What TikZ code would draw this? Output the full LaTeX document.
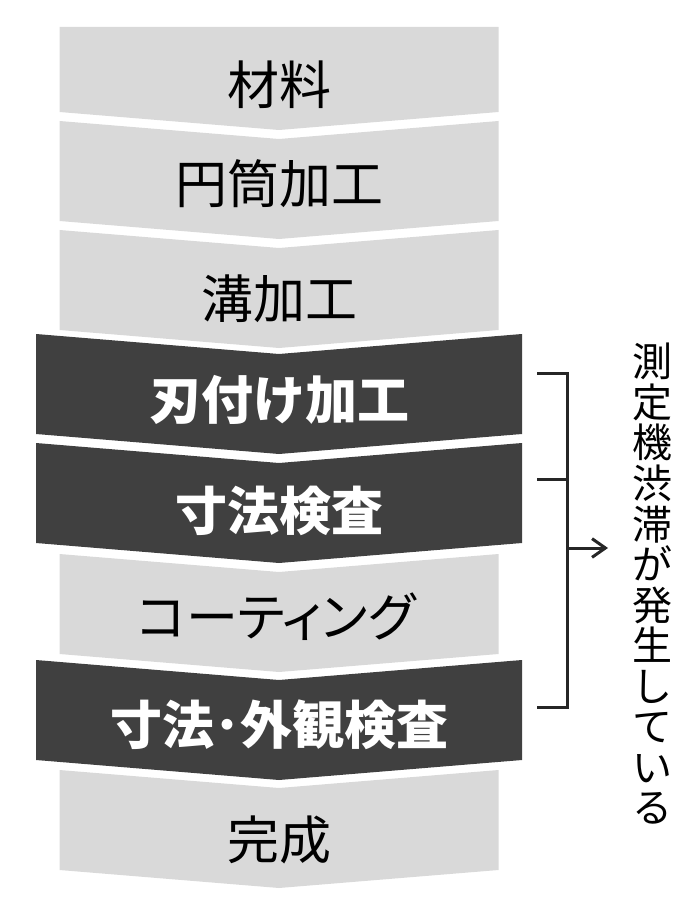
\documentclass[tikz,border=0pt]{standalone}
\usepackage{fontspec}
\setmainfont{Noto Sans CJK JP}
\usetikzlibrary{arrows.meta}
\definecolor{lightgr}{HTML}{D9D9D9}
\definecolor{darkgr}{HTML}{404040}
\definecolor{linegr}{HTML}{262626}
\tikzstyle{lighttext} = [text=black, font=\fontsize{39pt}{39pt}\selectfont, text height=31pt, text depth=2pt, inner sep=0pt]
\tikzstyle{darktext} = [lighttext, text=white, font=\fontsize{39pt}{39pt}\selectfont\bfseries]
\tikzstyle{vtext} = [text=black, align=center, font=\fontsize{30pt}{30.4pt}\selectfont, inner sep=0pt]
\tikzstyle{bracket} = [line width=2.25pt, draw=linegr]
\tikzstyle{arrow} = [bracket, -{Straight Barb[length=10pt, width=14pt]}]
\begin{document}
\begin{tikzpicture}[x=0.75pt, y=-0.75pt]
\useasboundingbox (0,0) rectangle (696,909);

% chevrons
\fill[lightgr] (59.5,27) -- (498.5,27) -- (498.5,112) -- (279,130) -- (59.5,112) -- cycle;
\foreach \t/\w/\d/\c in {139/219.5/18/lightgr, 248/219.5/18/lightgr, 354/243/20/darkgr, 463/243/20/darkgr, 572/219.5/18/lightgr, 680/243/20/darkgr, 788/219.5/18/lightgr}
  \fill[\c] (279-\w,\t-\d) -- (279,\t) -- (279+\w,\t-\d) -- (279+\w,\t-\d+100) -- (279,\t+100) -- (279-\w,\t-\d+100) -- cycle;

\node (mat) [lighttext] at (279,85) {材料};
\node (cyl) [lighttext] at (279,184) {円筒加工};
\node (grv) [lighttext] at (279,299) {溝加工};
\node (edge) [darktext] at (279,400) {刃付け加工};
\node (insp) [darktext] at (279,511) {寸法検査};
\node (coat) [lighttext] at (276,617) {\addfontfeatures{RawFeature=+palt}コーティング};
\node (insp2) [darktext] at (279,725) {寸法･外観検査};
\node (done) [lighttext] at (279,840) {完成};

\node (jam) [vtext, anchor=north] at (652,343) {測\\定\\機\\渋\\滞\\が\\発\\生\\し\\て\\い\\る};

\coordinate (b1) at (537,373);
\coordinate (b2) at (537,479);
\coordinate (b3) at (537,707);
\coordinate (bm) at (567,548);
\coordinate (tip) at (608,548);

\draw [bracket] (b1) -| (bm) |- (b3);
\draw [bracket] (b2) -- (b2 -| bm);
\draw [arrow] (bm) -- (tip);

\end{tikzpicture}
\end{document}
